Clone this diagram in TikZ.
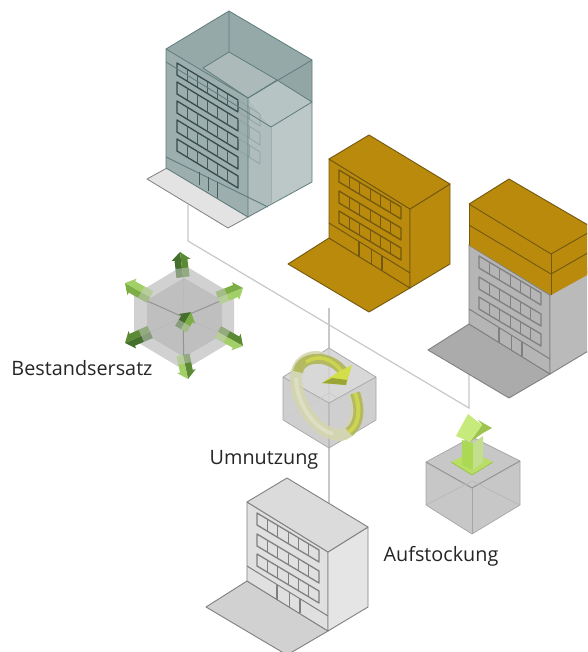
\documentclass[tikz,border=0pt]{standalone}
\usepackage{fontspec}
\setmainfont{Open Sans}
\usetikzlibrary{calc}
\definecolor{orangeF}{HTML}{B98A0C}
\definecolor{orangeL}{HTML}{73580F}
\definecolor{linkC}{HTML}{C8C8C8}
\definecolor{tealL}{HTML}{5F7C7B}
\definecolor{gDark}{HTML}{456F2C}
\definecolor{gDeep}{HTML}{5C8A34}
\definecolor{gMid}{HTML}{7DAE45}
\definecolor{gLight}{HTML}{A3CF68}
\definecolor{ringPale}{HTML}{D3D6AE}
\definecolor{ringPaler}{HTML}{E0E2C6}
\definecolor{ringOl}{HTML}{B4BA62}
\definecolor{ringY}{HTML}{CDD54E}
\definecolor{ringHead}{HTML}{D3DF48}
\definecolor{ringHeadD}{HTML}{9BA436}
\definecolor{upBase}{HTML}{B8DE66}
\definecolor{upL}{HTML}{ACD954}
\definecolor{upR}{HTML}{C3DF8E}
\definecolor{upHeadL}{HTML}{C6EA7C}
\definecolor{upHeadD}{HTML}{9CC44E}
\tikzset{
  link/.style={draw=linkC,line width=1.2pt},
  lbl/.style={font=\fontsize{19.8}{22}\selectfont,text=black!85,inner sep=0pt,anchor=center},
  cubeedge/.style={draw=black!35,line width=.7pt},
}
% Lx Ly roof front side plaza line
\newcommand{\bldg}[7]{%
\begin{scope}[shift={(#1,#2)},draw=#7,line join=round,line width=.9pt]
  \filldraw[fill=#6] (0,79)--(-41,105)--(40,153)--(81,129)--cycle;
  \filldraw[fill=#4] (0,0)--(81,50)--(81,129)--(0,79)--cycle;
  \filldraw[fill=#5] (81,50)--(121,25)--(121,105)--(81,129)--cycle;
  \filldraw[fill=#3] (0,0)--(40,-24)--(121,25)--(81,50)--cycle;
  \foreach \r in {0,21,41}{
    \begin{scope}[yshift=-\r pt]
    \draw[line width=1.3pt] (10,11)--(72,48)--(72,60)--(10,23)--cycle;
    \foreach \k in {1,...,5}{\draw[line width=.9pt] ({10+\k*10.33},{11+\k*6.17})--++(0,12);}
    \end{scope}}
  \draw[line width=1pt] (0,64)--(81,114);
  \draw[line width=1.1pt] (30,83)--(30,98);
  \draw[line width=.7pt] (42,90)--(42,105);
  \draw[line width=1.1pt] (53,97)--(53,111);
\end{scope}}
% tail tip colourA colourB
\newcommand{\blockarrow}[4]{%
  \fill[#3] ($(#1)!6.5pt!90:(#2)$)--($(#2)!8pt!(#1)!6.5pt!90:(#2)$)--($(#2)!8pt!(#1)!9.5pt!90:(#2)$)--(#2)--($(#2)!8pt!(#1)$)--(#1)--cycle;
  \fill[#4] ($(#1)!6.5pt!-90:(#2)$)--($(#2)!8pt!(#1)!6.5pt!-90:(#2)$)--($(#2)!8pt!(#1)!9.5pt!-90:(#2)$)--(#2)--($(#2)!8pt!(#1)$)--(#1)--cycle;
  \fill[black!20,opacity=.5] ($(#1)!6.5pt!90:(#2)$)--($(#1)!6.5pt!-90:(#2)$)--($(#1)!.35!(#2)!6.5pt!-90:(#2)$)--($(#1)!.35!(#2)!6.5pt!90:(#2)$)--cycle;
}
\begin{document}
\begin{tikzpicture}[x=1pt,y=-1pt]
\useasboundingbox (0,0) rectangle (587,652);
\clip (0,0) rectangle (587,652);
\fill[white] (0,0) rectangle (587,652);

% connector points
\coordinate (tealFoot) at (188,205);
\coordinate (bend) at (188,241);
\coordinate (meet) at (469,408);
\coordinate (grayFoot) at (469,370);
\coordinate (orangeFoot) at (329,308);
\coordinate (whiteTop) at (329,505);
\draw[link] (tealFoot)--(bend)--(meet)--(grayFoot);
\draw[link] (orangeFoot)--(whiteTop);

% teal building
\begin{scope}[line join=round,draw=tealL,line width=.8pt]
 \filldraw[fill=black!11,draw=black!50] (147,179)--(167,168)--(248,217)--(228,228)--cycle;
 \fill[fill=tealL!62!white] (166,49)--(248,98)--(248,217)--(166,168)--cycle;
 \fill[fill=tealL!50!white] (248,98)--(271,127)--(271,204)--(248,217)--cycle;
 \fill[fill=tealL!42!white] (271,127)--(312,102)--(312,182)--(271,204)--cycle;
 \fill[fill=tealL!66!white] (166,49)--(229,11)--(312,60)--(248,98)--cycle;
 \fill[fill=tealL!52!white] (203,68)--(229,52)--(277,80)--(248,98)--cycle;
 \fill[fill=tealL!45!white] (248,98)--(277,80)--(312,102)--(271,127)--cycle;
 \fill[fill=tealL!68!white] (277,80)--(312,60)--(312,102)--cycle;
 \foreach \r in {0,19,38,57,76}{
  \begin{scope}[yshift=-\r pt]
   \draw[line width=1.3pt,draw=tealL!60!black] (177,63)--(238,100)--(238,112)--(177,75)--cycle;
   \foreach \k in {1,...,5}{\draw[line width=.8pt,draw=tealL!75!black] ({177+\k*10.17},{63+\k*6.17})--++(0,12);}
  \end{scope}}
 \foreach \r in {0,19,38}{
  \begin{scope}[yshift=-\r pt]
   \draw[line width=.7pt,draw=tealL!70!white] (238,100)--(260,114)--(260,126)--(238,112);
   \draw[line width=.5pt,draw=tealL!70!white] (249,107)--++(0,12);
  \end{scope}}
 \draw[line width=.9pt] (166,157)--(268,207);
 \draw[line width=1pt,draw=tealL!75!black] (199,172)--(199,185) (217,182)--(217,198) (208,177)--(208,191);
 \draw (166,49)--(229,11)--(312,60)--(312,182)--(248,217)--(166,168)--cycle;
 \draw (166,49)--(248,98)--(312,60) (248,98)--(248,217);
 \draw (229,11)--(229,52) (203,68)--(229,52)--(277,80);
 \draw (203,68)--(248,98)--(277,80)--(312,102)--(271,127);
 \draw[draw=tealL!60!white] (271,127)--(271,204);
 \draw (166,62)--(271,127);
\end{scope}

% orange building
\bldg{329}{159}{orangeF}{orangeF}{orangeF}{orangeF}{orangeL}

% grey building with storeys
\bldg{469}{245}{black!30}{black!29}{black!27}{black!33}{black!50}
\begin{scope}[draw=orangeL,line width=.9pt,line join=round]
 \fill[orangeF] (469,204)--(509,179)--(600,232)--(600,268)--(551,295)--(469,245)--cycle;
 \draw (469,204)--(509,179)--(600,232);
 \draw (469,204)--(469,245);
 \draw (469,204)--(551,254)--(600,226);
 \draw (469,225)--(551,274)--(600,246);
 \draw (551,254)--(551,295);
\end{scope}

% white building
\bldg{247}{502}{black!14}{black!12}{black!10}{black!18}{black!50}

% Bestandsersatz cube
\begin{scope}[line join=round]
 \fill[black!18] (184,265)--(234,295)--(234,340)--(184,370)--(134,340)--(134,295)--cycle;
 \fill[black!25] (184,278)--(222,300)--(222,335)--(184,357)--(147,335)--(147,300)--cycle;
 \draw[black!28,line width=.6pt] (184,265)--(183,317)--(134,340) (183,317)--(234,340);
 \draw[black!42,line width=1pt] (134,295)--(183,317)--(234,295) (183,317)--(184,370);
 \coordinate (a1t) at (183,277); \coordinate (a1h) at (180,252);
 \coordinate (a2t) at (150,297); \coordinate (a2h) at (125,283);
 \coordinate (a3t) at (218,298); \coordinate (a3h) at (243,288);
 \coordinate (a4t) at (218,332); \coordinate (a4h) at (243,346);
 \coordinate (a5t) at (150,332); \coordinate (a5h) at (125,343);
 \coordinate (a6t) at (183,355); \coordinate (a6h) at (188,379);
 \coordinate (a7t) at (181,329); \coordinate (a7h) at (191,312);
 \blockarrow{a1t}{a1h}{gDark}{gDeep}
 \blockarrow{a2t}{a2h}{gMid}{gLight}
 \blockarrow{a3t}{a3h}{gMid}{gLight}
 \blockarrow{a4t}{a4h}{gDeep}{gLight}
 \blockarrow{a5t}{a5h}{gDark}{gDeep}
 \blockarrow{a6t}{a6h}{gDeep}{gLight}
 \blockarrow{a7t}{a7h}{gDark}{gMid}
\end{scope}

% Umnutzung cube
\begin{scope}[line join=round]
 \fill[black!22,opacity=.85] (329,348)--(376,377)--(376,420)--(329,448)--(283,420)--(283,377)--cycle;
 \fill[black!6,opacity=.3] (283,377)--(329,348)--(376,377)--(329,403)--cycle;
 \draw[cubeedge] (283,377)--(329,348)--(376,377)--(376,420)--(329,448)--(283,420)--cycle;
 \draw[cubeedge] (283,377)--(329,403)--(376,377) (329,403)--(329,448);
 \draw[cubeedge,black!20] (283,420)--(329,393)--(376,420) (329,348)--(329,393);
 \path[draw=ringPale,line width=12pt,opacity=.85]
   (355,393) .. controls (362,420) and (350,440) .. (333,434)
   .. controls (312,428) and (296,400) .. (296,378)
   .. controls (296,362) and (310,354) .. (322,358);
 \path[draw=ringPaler,line width=4pt,opacity=.8]
   (333,434) .. controls (312,428) and (296,400) .. (296,378);
 \path[draw=ringOl,line width=10pt]
   (355,393) .. controls (361,410) and (359,425) .. (349,432);
 \path[draw=ringY,line width=4pt]
   (355,393) .. controls (361,410) and (359,425) .. (349,432);
 \path[draw=ringOl,line width=10pt]
   (298,372) .. controls (300,356) and (330,352) .. (345,374);
 \path[draw=ringY,line width=3.5pt]
   (306,362) .. controls (318,354) and (332,358) .. (342,372);
 \fill[ringHead] (352,365)--(346,385)--(322,383)--(338,372)--cycle;
 \fill[ringHeadD] (322,383)--(346,385)--(347,380)--(332,378)--cycle;
\end{scope}

% Aufstockung cube
\begin{scope}[line join=round]
 \fill[black!24,opacity=.9] (472,437)--(520,461)--(520,505)--(472,534)--(426,505)--(426,462)--cycle;
 \draw[cubeedge] (426,462)--(472,437)--(520,461)--(520,505)--(472,534)--(426,505)--cycle;
 \draw[black!42,line width=1pt] (426,462)--(472,488)--(520,461);
 \draw[cubeedge] (472,488)--(472,534);
 \draw[cubeedge,black!28] (426,505)--(472,481)--(520,505);
 \fill[upBase] (451,462)--(472,452)--(493,462)--(472,475)--cycle;
 \draw[upHeadD,line width=.8pt] (451,462)--(472,475)--(493,462);
 \fill[upL] (462,440)--(473,443)--(473,470)--(462,465)--cycle;
 \fill[upR] (473,443)--(483,436)--(483,462)--(473,470)--cycle;
 \fill[upHeadD] (478,420)--(492,428)--(483,433)--(470,442)--(482,425)--cycle;
 \fill[upHeadL] (468,414)--(456,436)--(470,442)--(482,425)--cycle;
\end{scope}

% labels
\node[lbl] (lb1) at (82,368) {Bestandsersatz};
\node[lbl] (lb2) at (264,460) {Umnutzung};
\node[lbl] (lb3) at (441,556) {Aufstockung};
\end{tikzpicture}
\end{document}
